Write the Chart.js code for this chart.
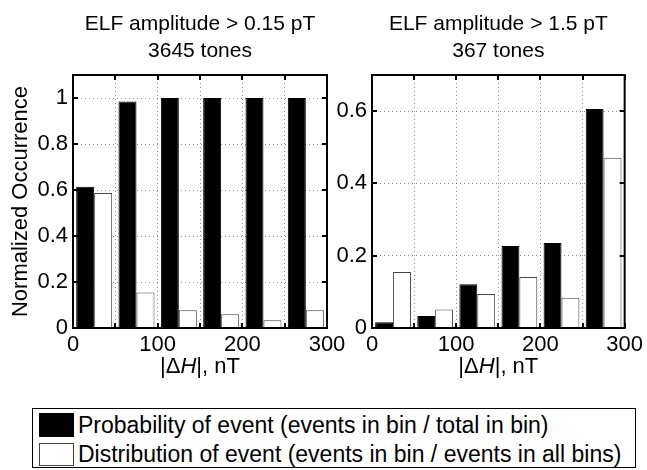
<!DOCTYPE html>
<html><head><meta charset="utf-8">
<script src="https://cdn.jsdelivr.net/npm/chart.js@4.4.1/dist/chart.umd.min.js"></script>
<style>
html,body{margin:0;padding:0;background:#fff;}
#wrap{position:relative;width:647px;height:470px;overflow:hidden;font-family:"Liberation Sans",Arial,Helvetica,sans-serif;}
#wrap canvas{position:absolute;left:0;top:0;}
#legend{position:absolute;left:32px;top:408px;width:604px;height:60px;border:1px solid #000;box-sizing:border-box;background:#fff;}
.sw{position:absolute;box-sizing:border-box;}
.lt{position:absolute;font-size:23px;line-height:24px;white-space:nowrap;color:#000;}
</style></head><body>
<div id="wrap">
<canvas id="cA" width="647" height="400"></canvas>
<canvas id="cB" width="647" height="400"></canvas>
<div id="legend"></div>
</div>
<script>
// ---- data ----
const binCenters = [25, 75, 125, 175, 225, 275];
const xTickLabels = [0, 100, 200, 300];
const probLow  = [0.614, 0.985, 1.0, 1.0, 1.0, 1.0];
const distLow  = [0.587, 0.154, 0.077, 0.060, 0.034, 0.077];
const probHigh = [0.016, 0.033, 0.121, 0.227, 0.235, 0.606];
const distHigh = [0.155, 0.051, 0.094, 0.141, 0.084, 0.471];
const titlesLow  = ['ELF amplitude > 0.15 pT', '3645 tones'];
const titlesHigh = ['ELF amplitude > 1.5 pT', '367 tones'];
const seriesNames = ['Probability of event (events in bin / total in bin)',
                     'Distribution of event (events in bin / events in all bins)'];
const yLabel = 'Normalized Occurrence';
const xLabelParts = [['|\u0394', false], ['H', true], ['|, nT', false]];

const FONT = '"Liberation Sans", Arial, Helvetica, sans-serif';
function pts(vals){ return vals.map((v,i)=>({x: binCenters[i], y: v})); }

const framePlugin = {
  id: 'frame',
  afterDraw(chart, args, opts) {
    const {ctx, chartArea: a, scales} = chart;
    ctx.save();
    ctx.strokeStyle = '#000';
    ctx.lineWidth = 2;
    ctx.beginPath();
    scales.x.ticks.forEach(t => {
      const px = Math.round(scales.x.getPixelForValue(t.value));
      ctx.moveTo(px, a.bottom); ctx.lineTo(px, a.bottom - 5);
      ctx.moveTo(px, a.top); ctx.lineTo(px, a.top + 5);
    });
    scales.y.ticks.forEach(t => {
      const py = Math.round(scales.y.getPixelForValue(t.value));
      ctx.moveTo(a.left, py); ctx.lineTo(a.left + 5, py);
      ctx.moveTo(a.right, py); ctx.lineTo(a.right - 5, py);
    });
    ctx.stroke();
    ctx.strokeRect(a.left, a.top, a.right - a.left, a.bottom - a.top);
    // titles
    ctx.fillStyle = '#000';
    ctx.font = '21px ' + FONT;
    ctx.textAlign = 'center';
    ctx.textBaseline = 'alphabetic';
    const cx = (a.left + a.right) / 2;
    ctx.fillText(opts.titles[0], cx, 30);
    ctx.fillText(opts.titles[1], cx, 57);
    // x axis title with italic H
    const fN = '22px ' + FONT, fI = 'italic 22px ' + FONT;
    let total = 0;
    const widths = xLabelParts.map(p => { ctx.font = p[1] ? fI : fN; const w = ctx.measureText(p[0]).width; total += w; return w; });
    let x = cx - total / 2;
    ctx.textAlign = 'left';
    xLabelParts.forEach((p, i) => { ctx.font = p[1] ? fI : fN; ctx.fillText(p[0], x, 373); x += widths[i]; });
    ctx.restore();
  }
};

function makeChart(id, prob, dist, titles, yMax, padL, yW, padR, showYTitle) {
  const gridCommon = {color: 'rgba(0,0,0,0.45)', lineWidth: 1, drawTicks: false};
  return new Chart(document.getElementById(id), {
    type: 'bar',
    data: { datasets: [
      {label: seriesNames[0], data: pts(prob), backgroundColor: '#000', borderColor: '#000', borderWidth: 1},
      {label: seriesNames[1], data: pts(dist), backgroundColor: '#fff', borderColor: '#444', borderWidth: 1}
    ]},
    options: {
      responsive: false, animation: false, devicePixelRatio: 1,
      layout: {padding: {left: padL, right: padR, top: 75, bottom: 0}},
      datasets: {bar: {categoryPercentage: 0.85, barPercentage: 1, grouped: true}},
      plugins: {legend: {display: false}, tooltip: {enabled: false}, title: {display: false}, frame: {titles: titles}},
      scales: {
        x: {
          type: 'linear', min: 0, max: 300, offset: false,
          grid: Object.assign({offset: false}, gridCommon),
          border: {display: false, dash: [1, 3]},
          ticks: {stepSize: 50, autoSkip: false, maxRotation: 0, padding: 4, color: '#000',
                  font: {size: 22, family: FONT},
                  callback: v => xTickLabels.includes(v) ? String(v) : ''},
          afterFit: s => { s.height = 72; }
        },
        y: {
          min: 0, max: yMax,
          grid: gridCommon,
          border: {display: false, dash: [1, 3]},
          ticks: {stepSize: 0.2, includeBounds: false, padding: 5, color: '#000',
                  font: {size: 22, family: FONT},
                  callback: v => String(Math.round(v * 10) / 10)},
          title: {display: showYTitle, text: yLabel, color: '#000', font: {size: 22, family: FONT}, padding: {top: 8, bottom: 0}},
          afterFit: s => { s.width = yW; }
        }
      }
    },
    plugins: [framePlugin]
  });
}

makeChart('cA', probLow, distLow, titlesLow, 1.1, 0, 73, 320, true);
makeChart('cB', probHigh, distHigh, titlesHigh, 0.7, 320, 52, 21, false);

// legend
const wrap = document.getElementById('wrap');
const sw = [
  {left: 39, top: 413, w: 35, h: 24, bg: '#000', bd: '#000'},
  {left: 39, top: 443, w: 35, h: 23, bg: '#fff', bd: '#444'}
];
seriesNames.forEach((name, i) => {
  const s = document.createElement('div');
  s.className = 'sw';
  s.style.cssText = `left:${sw[i].left}px;top:${sw[i].top}px;width:${sw[i].w}px;height:${sw[i].h}px;background:${sw[i].bg};border:1px solid ${sw[i].bd};`;
  wrap.appendChild(s);
  const t = document.createElement('div');
  t.className = 'lt';
  t.style.left = '78px';
  t.style.top = (413 + i * 29) + 'px';
  t.textContent = name;
  wrap.appendChild(t);
});
</script>
</body></html>
